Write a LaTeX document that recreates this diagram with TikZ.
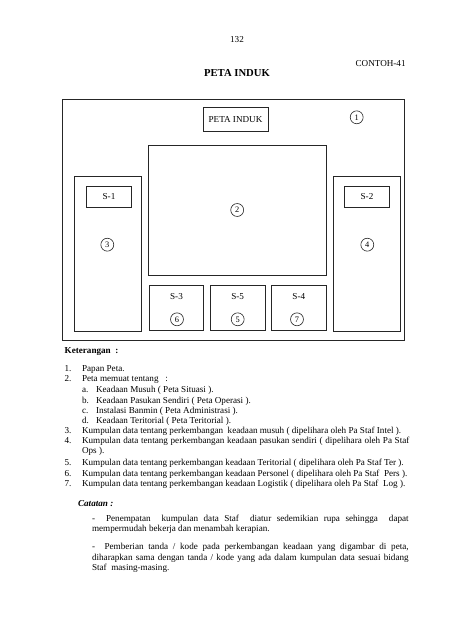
\documentclass[tikz,border=0pt]{standalone}
\usepackage{fontspec}
\setmainfont{Liberation Serif}
\newcommand{\jline}[2]{\hbox to #1{#2}}

\begin{document}
\begin{tikzpicture}[x=1.3156pt, y=-1.3156pt, line width=1pt,
  box/.style = {draw=black!85, inner sep=0pt, font=\fontsize{12}{14}\selectfont},
  num/.style = {draw=black!85, circle, line width=0.8pt, minimum size=17pt, inner sep=0pt, font=\fontsize{11}{11}\selectfont},
  lbl/.style = {inner sep=0pt, font=\fontsize{12}{14}\selectfont},
  txt/.style = {anchor=west, inner sep=0pt, text height=8pt, text depth=2.5pt, font=\fontsize{12}{14}\selectfont}]
\useasboundingbox[fill=white] (0,0) rectangle (452,640);

% page head
\node[lbl] (page) at (237,40) {132};
\node[lbl, anchor=east] (contoh) at (406,63.3) {CONTOH-41};
\node[lbl, font=\fontsize{14}{16}\selectfont\bfseries] (title) at (237,72.7) {PETA INDUK};

% papan peta
\draw[draw=black!85] (62.3,99) rectangle (404,340);
\node[box, minimum width=85.5pt, minimum height=31.6pt] (head) at (235.5,119.3) {PETA INDUK};
\node[num] (1) at (356.7,117.3) {1};

\node[box, minimum width=233.8pt, minimum height=171pt] (map) at (237.2,210) {};
\node[num] (2) at (map.center) {2};

\node[box, minimum width=88.1pt, minimum height=204pt] (left) at (108.2,253.5) {};
\node[box, minimum width=59.7pt, minimum height=27.6pt] (s1) at (109,196.8) {S-1};
\node[num] (3) at (107.3,244.7) {3};

\node[box, minimum width=87.7pt, minimum height=204pt] (right) at (366.7,253.5) {};
\node[box, minimum width=59.7pt, minimum height=27.6pt] (s2) at (367,196.8) {S-2};
\node[num] (4) at (367.3,244.7) {4};

\node[box, minimum width=71.6pt, minimum height=58.7pt] (b3) at (176.5,308) {};
\node[box, minimum width=71.6pt, minimum height=58.7pt] (b5) at (237.7,308) {};
\node[box, minimum width=71.6pt, minimum height=58.7pt] (b4) at (298.8,308) {};
\node[lbl] (s3) at (176.5,296.7) {S-3};
\node[lbl] (s5) at (237.7,296.7) {S-5};
\node[lbl] (s4) at (298.8,296.7) {S-4};
\node[num] (6) at (177,319.3) {6};
\node[num] (5) at (237.7,319.3) {5};
\node[num] (7) at (297,319.3) {7};

% keterangan
\node[txt, font=\fontsize{12}{14}\selectfont\bfseries] (ket) at (64.3,351.7) {Keterangan~~:};
\node[txt] (k1) at (64.3,369.3) {1.};
\node[txt] (t1) at (81.7,369.3) {Papan Peta.};
\node[txt] (k2) at (64.3,379.7) {2.};
\node[txt] (t2) at (81.7,379.7) {Peta memuat tentang~~~:};
\node[txt] (ka) at (81.7,390) {a.};
\node[txt] (ta) at (95.7,390) {Keadaan Musuh ( Peta Situasi ).};
\node[txt] (kb) at (81.7,401) {b.};
\node[txt] (tb) at (95.7,401) {Keadaan Pasukan Sendiri ( Peta Operasi ).};
\node[txt] (kc) at (81.7,411) {c.};
\node[txt] (tc) at (95.7,411) {Instalasi Banmin ( Peta Administrasi ).};
\node[txt] (kd) at (81.7,421) {d.};
\node[txt] (td) at (95.7,421) {Keadaan Teritorial ( Peta Teritorial ).};
\node[txt] (k3) at (64.3,431.3) {3.};
\node[txt] (t3) at (81.7,431.3) {Kumpulan data tentang perkembangan~ keadaan musuh ( dipelihara oleh Pa Staf Intel ).};
\node[txt] (k4) at (64.3,441.7) {4.};
\node[txt] (t4) at (81.7,441.7) {\jline{430.6pt}{Kumpulan data tentang perkembangan keadaan pasukan sendiri ( dipelihara oleh Pa Staf}};
\node[txt] (t4b) at (81.7,451.7) {Ops ).};
\node[txt] (k5) at (64.3,463.3) {5.};
\node[txt] (t5) at (81.7,463.3) {Kumpulan data tentang perkembangan keadaan Teritorial ( dipelihara oleh Pa Staf Ter ).};
\node[txt] (k6) at (64.3,474) {6.};
\node[txt] (t6) at (81.7,474) {Kumpulan data tentang perkembangan keadaan Personel ( dipelihara oleh Pa Staf~ Pers ).};
\node[txt] (k7) at (64.3,484.3) {7.};
\node[txt] (t7) at (81.7,484.3) {Kumpulan data tentang perkembangan keadaan Logistik ( dipelihara oleh Pa Staf~ Log ).};

% catatan
\node[txt, font=\fontsize{12}{14}\selectfont\bfseries\itshape] (cat) at (77.7,504) {Catatan :};
\node[txt] (c1) at (91.7,519) {\jline{416.5pt}{-~ Penempatan~ kumpulan data Staf~ diatur sedemikian rupa sehingga~ dapat}};
\node[txt] (c1b) at (91.7,529.3) {mempermudah bekerja dan menambah kerapian.};
\node[txt] (c2) at (91.7,547.7) {\jline{416.5pt}{-~ Pemberian tanda / kode pada perkembangan keadaan yang digambar di peta,}};
\node[txt] (c2b) at (91.7,558) {\jline{416.5pt}{diharapkan sama dengan tanda / kode yang ada dalam kumpulan data sesuai bidang}};
\node[txt] (c2c) at (91.7,568) {Staf~ masing-masing.};
\end{tikzpicture}
\end{document}
